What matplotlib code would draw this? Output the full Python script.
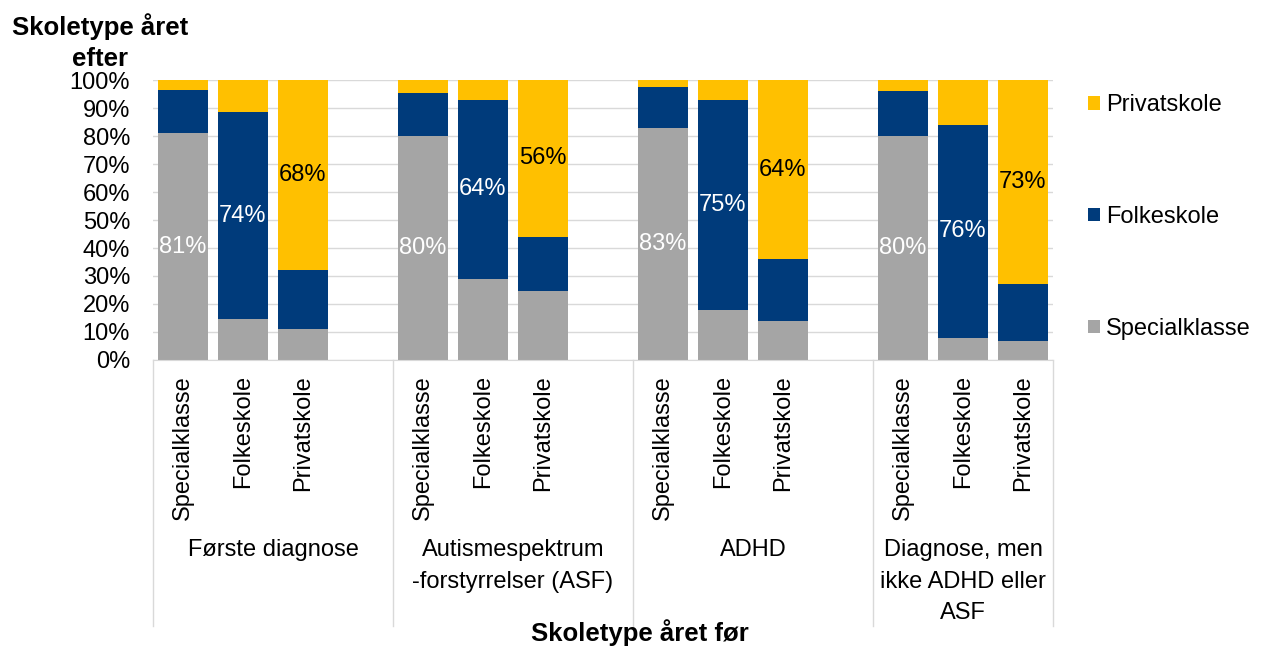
import matplotlib.pyplot as plt
import numpy as np

plt.rcParams['font.family'] = ['Liberation Sans', 'DejaVu Sans']

# Data: share (%) by school type the year after, per school type the year before
groups = ['Første diagnose', 'Autismespektrum\n-forstyrrelser (ASF)', 'ADHD',
          'Diagnose, men\nikke ADHD eller\nASF']
bar_labels = ['Specialklasse', 'Folkeskole', 'Privatskole']

special = [81, 14.5, 11, 80, 29, 24.5, 83, 18, 14, 80, 8, 6.7]
folke = [15.5, 74, 21, 15.5, 64, 19.5, 14.5, 75, 22, 16, 76, 20.3]
privat = [3.5, 11.5, 68, 4.5, 7, 56, 2.5, 7, 64, 4, 16, 73]

colors = {'Specialklasse': '#A5A5A5', 'Folkeskole': '#003B7B', 'Privatskole': '#FFC000'}

fig = plt.figure(figsize=(12.63, 6.48), dpi=100)
ax = fig.add_axes([153 / 1263, 1 - 360 / 648, 900 / 1263, 280 / 648])

# 3 bars per group + one empty slot between groups
x = np.array([g * 4 + i for g in range(len(groups)) for i in range(3)])
width = 50 / 60

special = np.array(special)
folke = np.array(folke)
privat = np.array(privat)

b1 = ax.bar(x, special, width, color=colors['Specialklasse'], label='Specialklasse', zorder=2)
b2 = ax.bar(x, folke, width, bottom=special, color=colors['Folkeskole'], label='Folkeskole', zorder=2)
b3 = ax.bar(x, privat, width, bottom=special + folke, color=colors['Privatskole'], label='Privatskole', zorder=2)

# Value labels only where "before" equals "after"
fs = 17
for k, xi in enumerate(x):
    i = k % 3
    if i == 0:
        ax.text(xi, special[k] / 2, f'{special[k]:.0f}%', ha='center', va='center',
                color='white', fontsize=fs, zorder=3)
    elif i == 1:
        ax.text(xi, special[k] + folke[k] / 2, f'{folke[k]:.0f}%', ha='center', va='center',
                color='white', fontsize=fs, zorder=3)
    else:
        ax.text(xi, special[k] + folke[k] + privat[k] / 2, f'{privat[k]:.0f}%', ha='center',
                va='center', color='black', fontsize=fs, zorder=3)

ax.set_xlim(-0.5, 14.5)
ax.set_ylim(0, 100)
ax.set_yticks(np.arange(0, 101, 10))
ax.set_yticklabels([f'{v}%' for v in range(0, 101, 10)], fontsize=fs)
ax.set_xticks(x)
ax.set_xticklabels(bar_labels * len(groups), rotation=90, fontsize=fs, va='top')
ax.tick_params(axis='both', length=0)
ax.tick_params(axis='x', pad=11)
ax.tick_params(axis='y', pad=16.5)

ax.grid(axis='y', color='#D9D9D9', linewidth=1, zorder=0)
for side in ['top', 'right', 'left']:
    ax.spines[side].set_visible(False)
ax.spines['bottom'].set_color('#D9D9D9')

# Group separators and group names below the tick labels
trans = ax.get_xaxis_transform()
edges = [-0.5, 3.5, 7.5, 11.5, 14.5]
for e in edges:
    ax.plot([e, e], [0, -0.95], color='#D9D9D9', lw=1, transform=trans, clip_on=False)
for g, name in enumerate(groups):
    cx = (edges[g] + edges[g + 1]) / 2
    ax.text(cx, -0.64, name, ha='center', va='top', fontsize=fs, transform=trans,
            linespacing=1.55)

fig.text(100 / 1263, 1 - 42 / 648, 'Skoletype året\nefter', ha='center', va='center',
         fontsize=18.5, fontweight='bold', linespacing=1.35)
fig.text(640 / 1263, 1 - 633 / 648, 'Skoletype året før', ha='center', va='center',
         fontsize=18.5, fontweight='bold')

handles = [b3, b2, b1]
fig.legend(handles, ['Privatskole', 'Folkeskole', 'Specialklasse'], loc='center left',
           bbox_to_anchor=(1088 / 1263, 1 - 217 / 648), frameon=False, fontsize=fs,
           labelspacing=3.8, handlelength=0.5, handleheight=0.5, handletextpad=0.25,
           borderpad=0, borderaxespad=0)

plt.savefig('out.png', dpi=100)
